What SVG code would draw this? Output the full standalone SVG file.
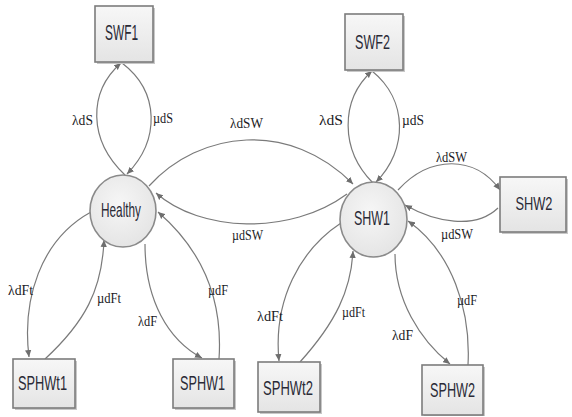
<svg xmlns="http://www.w3.org/2000/svg" width="572" height="417" viewBox="0 0 572 417">
<defs>
<linearGradient id="gb" x1="0" y1="0" x2="0" y2="1"><stop offset="0" stop-color="#f7f7f7"/><stop offset="1" stop-color="#e4e4e4"/></linearGradient>
<radialGradient id="gc" cx="0.45" cy="0.4" r="0.7"><stop offset="0" stop-color="#f6f6f6"/><stop offset="1" stop-color="#e2e2e2"/></radialGradient>
<marker id="ah" viewBox="0 0 10 10" refX="10" refY="5" markerWidth="7" markerHeight="7" markerUnits="userSpaceOnUse" orient="auto"><path d="M0,0.5 L10,5 L0,9.5 Z" fill="#6e6e6e"/></marker>
</defs>
<style>
.box{fill:url(#gb);stroke:#7c7c7c;stroke-width:1.6}
.sh{fill:#c8c8c8}
.cir{fill:url(#gc);stroke:#8a8a8a;stroke-width:1.6}
.nl{font-family:"Liberation Sans",Arial,sans-serif;fill:#2a2a36;text-anchor:middle}
.el{font-family:"Liberation Serif","Times New Roman",serif;font-size:15px;fill:#1a1a24;text-anchor:middle}
.c{fill:none;stroke:#7a7a7a;stroke-width:1.2;marker-end:url(#ah)}
</style>
<rect width="572" height="417" fill="#ffffff"/>
<g id="connectors">
<path class="c" d="M125,175 C88,140 88,92 121,63"/>
<path class="c" d="M122,63 C160,92 160,140 127,174"/>
<path class="c" d="M373,183 C340,150 340,100 372,71"/>
<path class="c" d="M372,71 C408,100 408,150 376,182"/>
<path class="c" d="M149,186 C200,130 290,120 353,184"/>
<path class="c" d="M347,194 C290,236 200,232 156,193"/>
<path class="c" d="M398,190 C430,155 475,155 500,190"/>
<path class="c" d="M498,208 C475,230 435,222 405,205"/>
<path class="c" d="M91,212 C40,240 22,300 29,357"/>
<path class="c" d="M45,359 C85,322 102,290 104,240"/>
<path class="c" d="M145,244 C145,300 168,340 202,358"/>
<path class="c" d="M219,359 C223,300 202,250 158,212"/>
<path class="c" d="M341,223 C300,250 273,300 279,361"/>
<path class="c" d="M300,362 C336,322 351,290 353,251"/>
<path class="c" d="M395,254 C395,300 420,340 450,364"/>
<path class="c" d="M468,365 C471,310 452,252 408,221"/>
</g>
<g id="SWF1"><rect class="sh" x="97" y="8" width="58" height="56"/><rect class="box" x="95" y="6" width="58" height="56"/><text class="nl" x="121.5" y="40" font-size="22" textLength="33" lengthAdjust="spacingAndGlyphs">SWF1</text></g>
<g id="SWF2"><rect class="sh" x="347" y="16" width="58" height="56"/><rect class="box" x="345" y="14" width="58" height="56"/><text class="nl" x="372.5" y="49" font-size="21" textLength="35" lengthAdjust="spacingAndGlyphs">SWF2</text></g>
<g id="SHW2"><rect class="sh" x="502" y="179" width="66" height="55"/><rect class="box" x="500" y="177" width="66" height="55"/><text class="nl" x="534" y="210" font-size="19" textLength="37" lengthAdjust="spacingAndGlyphs">SHW2</text></g>
<g id="SPHWt1"><rect class="sh" x="15" y="361" width="62" height="49"/><rect class="box" x="13" y="359" width="62" height="49"/><text class="nl" x="42.5" y="390" font-size="21" textLength="49" lengthAdjust="spacingAndGlyphs">SPHWt1</text></g>
<g id="SPHW1"><rect class="sh" x="175" y="361" width="61" height="49"/><rect class="box" x="173" y="359" width="61" height="49"/><text class="nl" x="202.5" y="390" font-size="21" textLength="45" lengthAdjust="spacingAndGlyphs">SPHW1</text></g>
<g id="SPHWt2"><rect class="sh" x="260" y="364" width="62" height="50"/><rect class="box" x="258" y="362" width="62" height="50"/><text class="nl" x="288" y="395" font-size="21" textLength="50" lengthAdjust="spacingAndGlyphs">SPHWt2</text></g>
<g id="SPHW2"><rect class="sh" x="424" y="367" width="61" height="49"/><rect class="box" x="422" y="365" width="61" height="50"/><text class="nl" x="452.5" y="397" font-size="21" textLength="45" lengthAdjust="spacingAndGlyphs">SPHW2</text></g>
<g id="Healthy"><ellipse class="cir" cx="123" cy="211" rx="33" ry="36"/><text class="nl" x="121" y="217" font-size="21" textLength="40" lengthAdjust="spacingAndGlyphs">Healthy</text></g>
<g id="SHW1"><ellipse class="cir" cx="373.5" cy="219.5" rx="33.5" ry="37.5"/><text class="nl" x="372" y="225" font-size="21" textLength="36" lengthAdjust="spacingAndGlyphs">SHW1</text></g>
<g id="labels">
<text class="el" x="82.5" y="125" textLength="21" lengthAdjust="spacingAndGlyphs">λdS</text>
<text class="el" x="163" y="123" textLength="20" lengthAdjust="spacingAndGlyphs">µdS</text>
<text class="el" x="246.5" y="128" textLength="33" lengthAdjust="spacingAndGlyphs">λdSW</text>
<text class="el" x="247.5" y="240" textLength="31" lengthAdjust="spacingAndGlyphs">µdSW</text>
<text class="el" x="331" y="125" textLength="24" lengthAdjust="spacingAndGlyphs">λdS</text>
<text class="el" x="413" y="125" textLength="22" lengthAdjust="spacingAndGlyphs">µdS</text>
<text class="el" x="451.5" y="162" textLength="31" lengthAdjust="spacingAndGlyphs">λdSW</text>
<text class="el" x="457" y="239" textLength="32" lengthAdjust="spacingAndGlyphs">µdSW</text>
<text class="el" x="20.5" y="295" textLength="25" lengthAdjust="spacingAndGlyphs">λdFt</text>
<text class="el" x="109" y="303" textLength="24" lengthAdjust="spacingAndGlyphs">µdFt</text>
<text class="el" x="147.5" y="326" textLength="19" lengthAdjust="spacingAndGlyphs">λdF</text>
<text class="el" x="218" y="295" textLength="20" lengthAdjust="spacingAndGlyphs">µdF</text>
<text class="el" x="270" y="321" textLength="26" lengthAdjust="spacingAndGlyphs">λdFt</text>
<text class="el" x="353.5" y="317" textLength="23" lengthAdjust="spacingAndGlyphs">µdFt</text>
<text class="el" x="402.5" y="340" textLength="21" lengthAdjust="spacingAndGlyphs">λdF</text>
<text class="el" x="467" y="305" textLength="20" lengthAdjust="spacingAndGlyphs">µdF</text>
</g>
</svg>
